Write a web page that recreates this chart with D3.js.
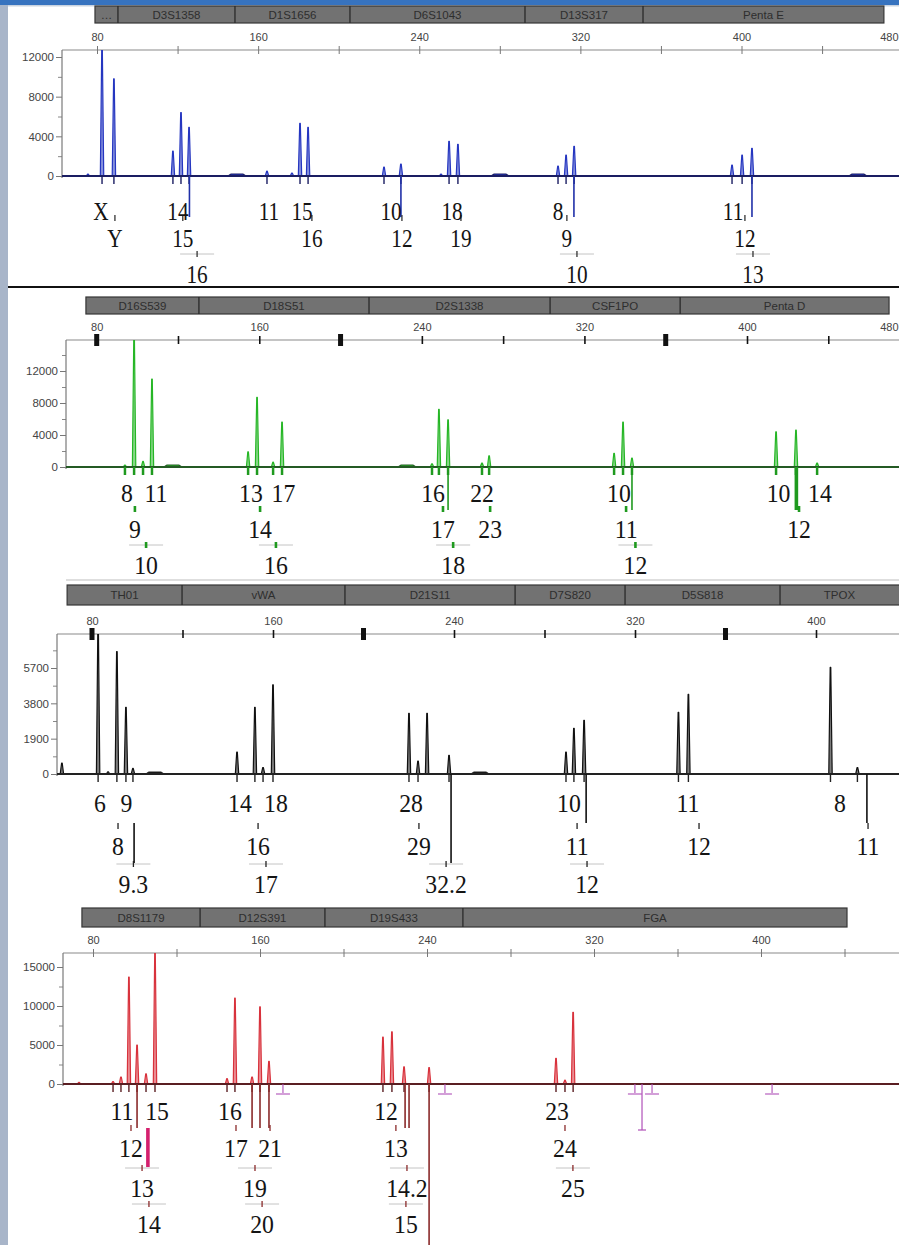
<!DOCTYPE html>
<html>
<head>
<meta charset="utf-8">
<script src="https://cdn.jsdelivr.net/npm/d3@7"></script>
<style>
  html, body { margin: 0; padding: 0; background: #fff; }
  svg { display: block; }
</style>
</head>
<body>
<svg id="chart" width="899" height="1245"></svg>
<script>
// ---------- shared axis values ----------
const sizeTicks = [80, 120, 160, 200, 240, 280, 320, 360, 400, 440, 480];
const sizeTickLabels = [80, 160, 240, 320, 400, 480];
const boldSizeTicks = [80, 200, 360];

// ---------- blue dye ----------
const blueLoci = ["…", "D3S1358", "D1S1656", "D6S1043", "D13S317", "Penta E"];
const blueLocusEdges = [79.0, 90.4, 148.5, 205.6, 292.5, 351.1, 470.7];
const blueSizes = [75.5, 82.5, 88.4, 117.7, 121.7, 125.7, 164.4, 176.8, 180.8, 184.8, 222.5, 230.9, 250.8, 254.8, 259.2, 308.9, 312.9, 316.9, 395.3, 400.3, 405.2];
const blueRfu = [200, 12900, 9800, 2500, 6400, 4900, 500, 300, 5300, 4900, 900, 1200, 200, 3500, 3200, 1000, 2100, 3000, 1100, 2100, 2800];
const blueCalled = [0, 1, 1, 1, 1, 1, 1, 0, 1, 1, 1, 1, 0, 1, 1, 1, 1, 1, 1, 1, 1];
const blueHumps = [149.5, 280.1, 457.8];
const blueYTicks = [0, 4000, 8000, 12000];
const blueYMinor = [2000, 6000, 10000];
const blueAlleles = ["X", "14", "11", "15", "10", "18", "8", "11", "Y", "15", "16", "12", "19", "9", "12", "16", "10", "13"];
const blueAlleleSizes = [82.0, 120.2, 165.4, 181.8, 226.0, 256.3, 308.9, 395.8, 88.9, 122.6, 186.7, 231.4, 260.7, 313.3, 401.7, 129.7, 318.3, 405.7];
const blueAlleleRows = [0, 0, 0, 0, 0, 0, 0, 0, 1, 1, 1, 1, 1, 1, 1, 2, 2, 2];
const blueBins = [125.9, 230.9, 316.8, 405.2];

// ---------- green dye ----------
const greenLoci = ["D16S539", "D18S51", "D2S1338", "CSF1PO", "Penta D"];
const greenLocusEdges = [74.7, 130.3, 214.0, 303.1, 367.1, 469.9];
const greenSizes = [93.9, 98.4, 102.8, 107.2, 154.5, 158.9, 166.8, 171.2, 245.0, 248.4, 252.9, 269.6, 273.1, 334.6, 339.0, 343.4, 414.3, 424.1, 434.5];
const greenRfu = [250, 16500, 700, 11000, 1900, 8700, 600, 5600, 400, 7200, 5900, 500, 1400, 1700, 5600, 1100, 4400, 4600, 500];
const greenCalled = [1, 1, 1, 1, 1, 1, 1, 1, 1, 1, 1, 1, 1, 1, 1, 1, 1, 1, 1];
const greenHumps = [117.5, 232.7];
const greenYTicks = [0, 4000, 8000, 12000];
const greenYMinor = [2000, 6000, 10000, 14000];
const greenAlleles = ["8", "11", "13", "17", "16", "22", "10", "10", "14", "9", "14", "17", "23", "11", "12", "10", "16", "18", "12"];
const greenAlleleSizes = [94.9, 109.2, 155.9, 171.9, 245.5, 269.6, 337.0, 415.5, 435.9, 98.8, 160.4, 250.4, 273.6, 340.5, 425.6, 104.3, 168.2, 255.4, 345.1];
const greenAlleleRows = [0, 0, 0, 0, 0, 0, 0, 0, 0, 1, 1, 1, 1, 1, 1, 2, 2, 2, 2];
const greenBins = [252.9, 343.4];
const greenHeavyBins = [424.3];

// ---------- black dye ----------
const blackLoci = ["TH01", "vWA", "D21S11", "D7S820", "D5S818", "TPOX"];
const blackLocusEdges = [69.0, 119.8, 191.8, 267.0, 315.6, 384.1, 446.0];
const blackSizes = [66.7, 82.7, 87.1, 91.0, 95.0, 98.1, 144.1, 152.0, 155.6, 160.0, 220.1, 224.1, 228.1, 237.8, 289.5, 293.0, 297.5, 339.2, 343.6, 406.4, 418.3];
const blackRfu = [590, 7800, 120, 6580, 3590, 300, 1180, 3590, 350, 4800, 3260, 700, 3260, 1000, 1180, 2460, 2890, 3320, 4280, 5730, 350];
const blackCalled = [0, 1, 0, 1, 1, 1, 1, 1, 1, 1, 1, 1, 0, 1, 1, 1, 1, 1, 1, 1, 1];
const blackHumps = [107.8, 251.5];
const blackYTicks = [0, 1900, 3800, 5700];
const blackYMinor = [950, 2850, 4750, 6650];
const blackAlleles = ["6", "9", "14", "18", "28", "10", "11", "8", "8", "16", "29", "11", "12", "11", "9.3", "17", "32.2", "12"];
const blackAlleleSizes = [83.5, 95.2, 145.4, 161.3, 221.0, 290.8, 343.4, 410.6, 91.5, 153.4, 224.5, 294.4, 348.3, 423.0, 98.3, 156.9, 236.5, 298.8];
const blackAlleleRows = [0, 0, 0, 0, 0, 0, 0, 0, 1, 1, 1, 1, 1, 1, 2, 2, 2, 2];
// [size, from level, to level]
const blackBins = [[98.6, 1, 2], [238.7, 0, 2], [298.4, 0, 1], [422.5, 0, 1]];

// ---------- red dye ----------
const redLoci = ["D8S1179", "D12S391", "D19S433", "FGA"];
const redLocusEdges = [74.7, 131.3, 191.1, 257.2, 441.2];
const redSizes = [73.3, 89.6, 93.4, 97.2, 101.1, 105.4, 109.7, 144.2, 148.0, 156.2, 160.0, 164.3, 218.9, 223.2, 229.0, 241.0, 301.8, 306.1, 310.0];
const redRfu = [200, 300, 900, 13700, 5000, 1300, 16800, 700, 11000, 900, 9900, 2900, 6000, 6700, 2200, 2100, 3300, 500, 9200];
const redCalled = [0, 1, 1, 1, 1, 1, 1, 1, 1, 1, 1, 1, 1, 1, 1, 1, 1, 1, 1];
const redYTicks = [0, 5000, 10000, 15000];
const redYMinor = [2500, 7500, 12500];
const redAlleles = ["11", "15", "16", "12", "23", "12", "17", "21", "13", "24", "13", "19", "14.2", "25", "14", "20", "15"];
const redAlleleSizes = [93.9, 110.7, 145.6, 220.4, 302.3, 98.2, 148.5, 164.8, 225.1, 306.1, 103.5, 157.6, 230.4, 309.9, 106.8, 161.0, 229.9];
const redAlleleRows = [0, 0, 0, 0, 0, 1, 1, 1, 1, 1, 2, 2, 2, 2, 3, 3, 3];
const redBins = [[101.1, 0, 1], [156.2, 0, 1], [160.0, 0, 1], [164.3, 0, 1], [229.5, 0, 1], [231.4, 0, 1], [241.0, 0, 3]];
const redFlagBins = [[106.3, 1, 2]];
const redOffLadder = [171.0, 248.6, 339.6, 347.8, 405.3];
const redOffLadderLong = [343.0];

// ---------- layout (positions and styles) ----------
const W = 899, H = 1245;
const panels = [
  { barY: 6, barH: 17, axisY: 50, baseY: 176, leftX: 62, x80: 97, x400: 741.5, yRef: [12000, 57],
    rows: [220, 247, 283], levels: [176, 217], color: "#2536c0", base: "#1a1d62", binColor: "#2030a8",
    gapTick: "#333", bold: false, fontScale: 0.85,
    loci: blueLoci, edges: blueLocusEdges, sizes: blueSizes, rfu: blueRfu, called: blueCalled, humps: blueHumps,
    yTicks: blueYTicks, yMinor: blueYMinor, alleles: blueAlleles, alleleSizes: blueAlleleSizes, alleleRows: blueAlleleRows,
    bins: blueBins.map(s => [s, 0, 1]) },
  { barY: 297, barH: 17, axisY: 340, baseY: 467, leftX: 66, x80: 96.7, x400: 747, yRef: [12000, 371],
    rows: [502, 538, 574], levels: [467, 510], color: "#26b626", base: "#245a24", binColor: "#1f9a1f",
    gapTick: "#1f9a1f", bold: true, fontScale: 0.95,
    loci: greenLoci, edges: greenLocusEdges, sizes: greenSizes, rfu: greenRfu, called: greenCalled, humps: greenHumps,
    yTicks: greenYTicks, yMinor: greenYMinor, alleles: greenAlleles, alleleSizes: greenAlleleSizes, alleleRows: greenAlleleRows,
    bins: greenBins.map(s => [s, 0, 1]), heavyBins: greenHeavyBins.map(s => [s, 0, 1]) },
  { barY: 585, barH: 20, axisY: 634, baseY: 774, leftX: 57, x80: 92, x400: 816, yRef: [5700, 668],
    rows: [812, 855, 893], levels: [774, 823, 863], color: "#111", base: "#222", binColor: "#111",
    gapTick: "#222", bold: true, fontScale: 0.95,
    loci: blackLoci, edges: blackLocusEdges, sizes: blackSizes, rfu: blackRfu, called: blackCalled, humps: blackHumps,
    yTicks: blackYTicks, yMinor: blackYMinor, alleles: blackAlleles, alleleSizes: blackAlleleSizes, alleleRows: blackAlleleRows,
    bins: blackBins },
  { barY: 908, barH: 19, axisY: 953, baseY: 1084, leftX: 63, x80: 93, x400: 761, yRef: [15000, 967],
    rows: [1120, 1157, 1197, 1233], levels: [1084, 1128, 1167, 1245], color: "#d8323c", base: "#5a1e22", binColor: "#8a2a2a",
    gapTick: "#8a2a2a", bold: false, fontScale: 0.95,
    loci: redLoci, edges: redLocusEdges, sizes: redSizes, rfu: redRfu, called: redCalled, humps: [],
    yTicks: redYTicks, yMinor: redYMinor, alleles: redAlleles, alleleSizes: redAlleleSizes, alleleRows: redAlleleRows,
    bins: redBins, flagBins: redFlagBins, offLadder: redOffLadder, offLadderLong: redOffLadderLong }
];

const svg = d3.select("#chart");
svg.append("rect").attr("width", W).attr("height", H).attr("fill", "#fff");
svg.append("rect").attr("x", 0).attr("y", 0).attr("width", 8).attr("height", H).attr("fill", "#a8b5c9");
svg.append("rect").attr("x", 0).attr("y", 0).attr("width", W).attr("height", 5).attr("fill", "#3773bf");
svg.append("rect").attr("x", 8).attr("y", 5).attr("width", W - 8).attr("height", 1.5).attr("fill", "#c9d3e0");

const line = d3.line();

panels.forEach((P, pi) => {
  const x = d3.scaleLinear().domain([80, 400]).range([P.x80, P.x400]);
  const y = d3.scaleLinear().domain([0, P.yRef[0]]).range([P.baseY, P.yRef[1]]);
  const g = svg.append("g").attr("class", "panel" + pi);

  // --- locus header bar ---
  const e = P.edges;
  g.append("rect")
    .attr("x", x(e[0])).attr("y", P.barY)
    .attr("width", Math.min(x(e[e.length - 1]), W + 2) - x(e[0])).attr("height", P.barH)
    .attr("fill", "#727272").attr("stroke", "#363636").attr("stroke-width", 1.2);
  g.selectAll(".div").data(e.slice(1, -1)).join("line")
    .attr("x1", d => x(d)).attr("x2", d => x(d))
    .attr("y1", P.barY).attr("y2", P.barY + P.barH)
    .attr("stroke", "#2a2a2a").attr("stroke-width", 1.3);
  g.selectAll(".locus").data(P.loci).join("text")
    .attr("x", (d, i) => (x(e[i]) + Math.min(x(e[i + 1]), W)) / 2)
    .attr("y", P.barY + P.barH / 2 + 4)
    .attr("text-anchor", "middle")
    .attr("font-family", "Liberation Sans, Arial, sans-serif")
    .attr("font-size", 11.5)
    .attr("fill", "#2e2e2e")
    .text(d => d);

  // --- top size axis (labels that would fall off the right edge are pulled in) ---
  const shownLabels = sizeTickLabels.filter(v => x(v) < W + 14);
  g.append("line")
    .attr("x1", P.leftX).attr("x2", W).attr("y1", P.axisY).attr("y2", P.axisY)
    .attr("stroke", "#8a8a8a").attr("stroke-width", 1.2);
  const topAxis = g.append("g").attr("transform", `translate(0,${P.axisY})`)
    .call(d3.axisTop(x).tickValues(sizeTicks).tickSize(4).tickPadding(5)
      .tickFormat(d => shownLabels.includes(d) ? d : ""));
  topAxis.select(".domain").remove();
  topAxis.selectAll(".tick line")
    .attr("y1", 4).attr("y2", -4)
    .attr("stroke", P.bold ? "#111" : "#777")
    .attr("stroke-width", P.bold ? 1.6 : 1);
  topAxis.selectAll(".tick text")
    .attr("font-family", "Liberation Sans, Arial, sans-serif")
    .attr("font-size", 11).attr("fill", "#444")
    .filter(d => x(d) > W - 12)
    .attr("text-anchor", "end")
    .attr("dx", d => (W - 1) - x(d));
  if (P.bold) {
    g.selectAll(".bold").data(boldSizeTicks).join("rect")
      .attr("x", d => x(d) - 2.5).attr("y", P.axisY - 6)
      .attr("width", 5).attr("height", 12).attr("fill", "#111");
  }

  // --- left RFU axis ---
  const leftAxis = g.append("g").attr("transform", `translate(${P.leftX},0)`)
    .call(d3.axisLeft(y).tickValues(P.yTicks).tickSize(6).tickPadding(2).tickFormat(d3.format("d")));
  leftAxis.select(".domain").remove();
  leftAxis.selectAll(".tick line").attr("stroke", "#777");
  leftAxis.selectAll(".tick text")
    .attr("font-family", "Liberation Sans, Arial, sans-serif")
    .attr("font-size", 11.5).attr("fill", "#444");
  const minorAxis = g.append("g").attr("transform", `translate(${P.leftX},0)`)
    .call(d3.axisLeft(y).tickValues(P.yMinor).tickSize(4).tickFormat(""));
  minorAxis.select(".domain").remove();
  minorAxis.selectAll(".tick line").attr("stroke", "#888");
  g.append("line")
    .attr("x1", P.leftX).attr("x2", P.leftX)
    .attr("y1", P.axisY).attr("y2", P.baseY + 2)
    .attr("stroke", "#7a7a7a").attr("stroke-width", 1.2);

  // --- peaks ---
  const clipId = "clip" + pi;
  svg.append("clipPath").attr("id", clipId)
    .append("rect").attr("x", P.leftX).attr("y", P.axisY)
    .attr("width", W - P.leftX).attr("height", P.baseY - P.axisY + 1);
  const plot = g.append("g").attr("clip-path", `url(#${clipId})`);

  plot.selectAll(".hump").data(P.humps).join("path")
    .attr("d", d => line([[x(d) - 9, y(0)], [x(d) - 6, y(0) - 2], [x(d) + 6, y(0) - 2], [x(d) + 9, y(0)]]))
    .attr("fill", P.color).attr("stroke", P.base).attr("stroke-width", 1.2);

  const peaks = P.sizes.map((s, i) => ({ s, h: P.rfu[i], called: P.called[i] }));
  plot.selectAll(".peak").data(peaks).join("path")
    .attr("d", d => line([[x(d.s) - 1.7, y(0)], [x(d.s) - 0.3, y(d.h)], [x(d.s) + 0.3, y(d.h)], [x(d.s) + 1.7, y(0)]]))
    .attr("fill", P.color).attr("fill-opacity", 0.55)
    .attr("stroke", P.color).attr("stroke-width", 1.2)
    .attr("stroke-linejoin", "round");

  // baseline
  g.append("line")
    .attr("x1", P.leftX).attr("x2", W).attr("y1", y(0)).attr("y2", y(0))
    .attr("stroke", P.base).attr("stroke-width", 1.8);

  // tick under each called peak
  g.selectAll(".callTick").data(peaks.filter(d => d.called)).join("line")
    .attr("x1", d => x(d.s)).attr("x2", d => x(d.s))
    .attr("y1", y(0)).attr("y2", y(0) + 8)
    .attr("stroke", pi === 1 ? P.binColor : P.base).attr("stroke-width", pi === 1 ? 2.5 : 1.4);

  // --- bin / off-scale lines below the baseline ---
  const drawBins = (arr, color, width) => {
    g.selectAll(null).data(arr).join("line")
      .attr("x1", d => x(d[0])).attr("x2", d => x(d[0]))
      .attr("y1", d => P.levels[d[1]]).attr("y2", d => P.levels[d[2]])
      .attr("stroke", color).attr("stroke-width", width);
  };
  drawBins(P.bins, P.binColor, 1.6);
  if (P.heavyBins) drawBins(P.heavyBins, P.binColor, 3.6);
  if (P.flagBins) drawBins(P.flagBins, "#d4206e", 3.6);

  if (P.offLadder) {
    const mk = g.selectAll(".ol").data(P.offLadder).join("g").attr("stroke", "#b050b8").attr("stroke-width", 1.1);
    mk.append("line").attr("x1", d => x(d)).attr("x2", d => x(d)).attr("y1", y(0)).attr("y2", y(0) + 9);
    mk.append("line").attr("x1", d => x(d) - 7).attr("x2", d => x(d) + 7).attr("y1", y(0) + 10).attr("y2", y(0) + 10);
    const lg = g.selectAll(".oll").data(P.offLadderLong).join("g").attr("stroke", "#b050b8").attr("stroke-width", 1.2);
    lg.append("line").attr("x1", d => x(d)).attr("x2", d => x(d)).attr("y1", y(0)).attr("y2", y(0) + 46);
    lg.append("line").attr("x1", d => x(d) - 4).attr("x2", d => x(d) + 4).attr("y1", y(0) + 46).attr("y2", y(0) + 46);
  }

  // --- allele call labels ---
  const labels = P.alleles.map((a, i) => ({ a, s: P.alleleSizes[i], r: P.alleleRows[i] }));
  g.selectAll(".gapLine").data(labels.filter(d => d.r >= 2)).join("line")
    .attr("x1", d => x(d.s) - 17).attr("x2", d => x(d.s) + 17)
    .attr("y1", d => P.rows[d.r] - 29).attr("y2", d => P.rows[d.r] - 29)
    .attr("stroke", "#c4c4c4").attr("stroke-width", 1);
  g.selectAll(".gapTick").data(labels.filter(d => d.r >= 1)).join("line")
    .attr("x1", d => x(d.s)).attr("x2", d => x(d.s))
    .attr("y1", d => P.rows[d.r] - 32).attr("y2", d => P.rows[d.r] - 26)
    .attr("stroke", P.gapTick).attr("stroke-width", pi === 1 ? 2.6 : 1.3);
  g.selectAll(".allele").data(labels).join("text")
    .attr("transform", d => `translate(${x(d.s)},${P.rows[d.r]}) scale(${P.fontScale},1)`)
    .attr("text-anchor", "middle")
    .attr("font-family", "Liberation Serif, 'Times New Roman', serif")
    .attr("font-size", 25)
    .attr("fill", "#141414")
    .text(d => d.a);
});

// panel separators
svg.append("line").attr("x1", 8).attr("x2", W).attr("y1", 287).attr("y2", 287)
  .attr("stroke", "#111").attr("stroke-width", 2);
svg.append("line").attr("x1", 66).attr("x2", W).attr("y1", 580).attr("y2", 580)
  .attr("stroke", "#bdbdbd").attr("stroke-width", 1);
</script>
</body>
</html>
